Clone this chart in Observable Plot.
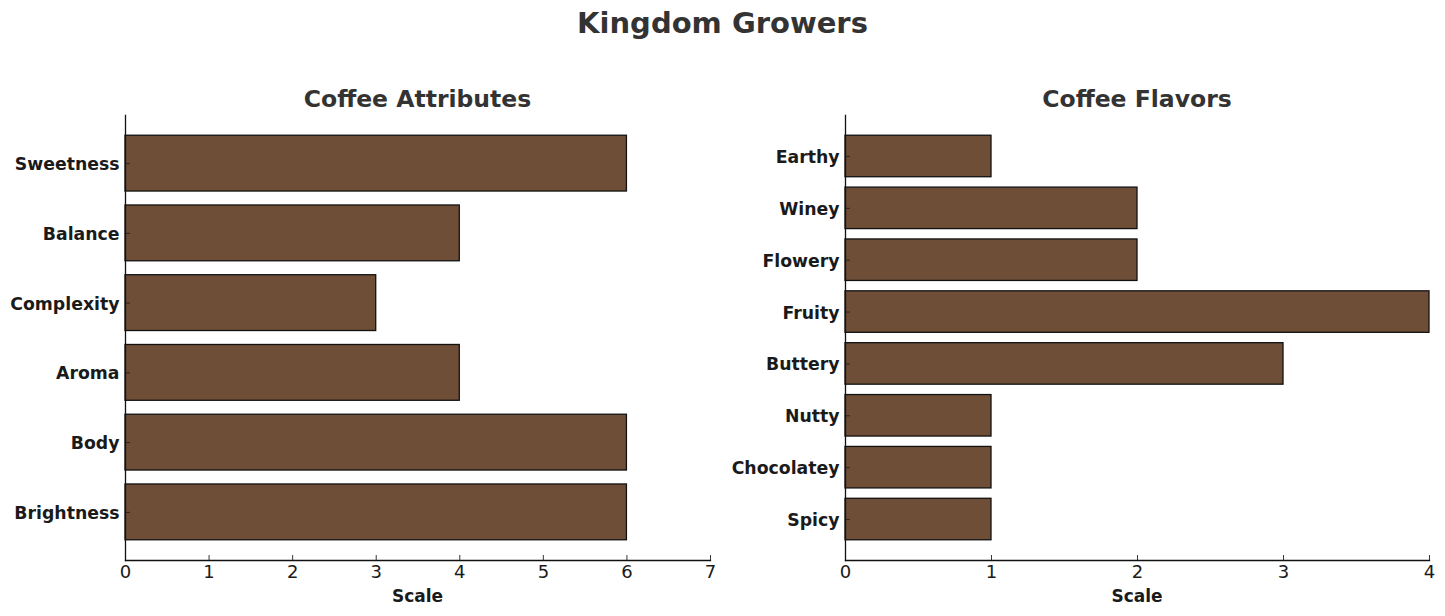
<!DOCTYPE html>
<html>
<head>
<meta charset="utf-8">
<script src="https://cdn.jsdelivr.net/npm/d3@7"></script>
<script src="https://cdn.jsdelivr.net/npm/@observablehq/plot@0.6"></script>
<style>
  html, body { margin: 0; padding: 0; background: #fff; }
  #root { position: relative; width: 1445px; height: 616px; font-family: "DejaVu Sans", sans-serif; overflow: hidden; }
  .title { position: absolute; left: 0; width: 1445px; top: 6px; text-align: center; font-size: 29px; font-weight: bold; color: #333; }
  .sub { position: absolute; top: 85px; text-align: center; font-size: 23.5px; font-weight: bold; color: #333; }
  .xlab { position: absolute; top: 586px; text-align: center; font-size: 17px; font-weight: bold; color: #1a1a1a; }
  .panel { position: absolute; top: 110px; }
  .panel svg { overflow: visible; }
</style>
</head>
<body>
<div id="root">
  <div class="title">Kingdom Growers</div>
  <div class="sub" style="left:125px;width:585px;">Coffee Attributes</div>
  <div class="sub" style="left:845px;width:584px;">Coffee Flavors</div>
  <div class="xlab" style="left:125px;width:585px;">Scale</div>
  <div class="xlab" style="left:845px;width:584px;">Scale</div>
  <div class="panel" id="left" style="left:0px;"></div>
  <div class="panel" id="right" style="left:720px;"></div>
</div>
<script>
// Data (top-to-bottom order as displayed)
const attrNames = ["Sweetness", "Balance", "Complexity", "Aroma", "Body", "Brightness"];
const attrValues = [6, 4, 3, 4, 6, 6];
const attrTicks = [0, 1, 2, 3, 4, 5, 6, 7];

const flavorNames = ["Earthy", "Winey", "Flowery", "Fruity", "Buttery", "Nutty", "Chocolatey", "Spicy"];
const flavorValues = [1, 2, 2, 4, 3, 1, 1, 1];
const flavorTicks = [0, 1, 2, 3, 4];

const barFill = "#6F4E37";

function panel(names, values, ticks, xmax, width, marginRight) {
  const data = names.map((n, i) => ({name: n, value: values[i]}));
  const n = names.length;
  const height = 506, marginTop = 5, marginBottom = 56, marginLeft = 125;
  const frameH = height - marginTop - marginBottom;
  const frameW = width - marginLeft - marginRight;
  return Plot.plot({
    width, height, marginTop, marginBottom, marginLeft, marginRight,
    style: {fontFamily: "DejaVu Sans, sans-serif", background: "transparent", overflow: "visible"},
    x: {domain: [0, xmax], ticks: ticks},
    y: {domain: names, paddingInner: 0.2, paddingOuter: 0.05 * (n - 0.2), align: 0.5, round: false},
    marks: [
      Plot.barX(data, {x: "value", y: "name", fill: barFill, stroke: "#111", strokeWidth: 1.3}),
      Plot.ruleX(ticks, {x: d => d, insetTop: frameH - 5, stroke: "#222", strokeWidth: 0.9}),
      Plot.ruleY(names, {y: d => d, insetRight: frameW - 5, stroke: "#222", strokeWidth: 0.9}),
      Plot.frame({anchor: "left", stroke: "#111", strokeWidth: 1.3}),
      Plot.frame({anchor: "bottom", stroke: "#111", strokeWidth: 1.3}),
      Plot.axisX({ticks: ticks, tickFormat: d3.format("d"), tickSize: 0, tickPadding: 5, fontSize: 18, label: null, fill: "#1a1a1a"}),
      Plot.axisY({tickSize: 0, tickPadding: 6, fontSize: 17.3, fontWeight: "bold", label: null, fill: "#1a1a1a", dy: 1})
    ]
  });
}

document.getElementById("left").append(panel(attrNames, attrValues, attrTicks, 7, 730, 20));
document.getElementById("right").append(panel(flavorNames, flavorValues, flavorTicks, 4, 725, 16));
</script>
</body>
</html>
